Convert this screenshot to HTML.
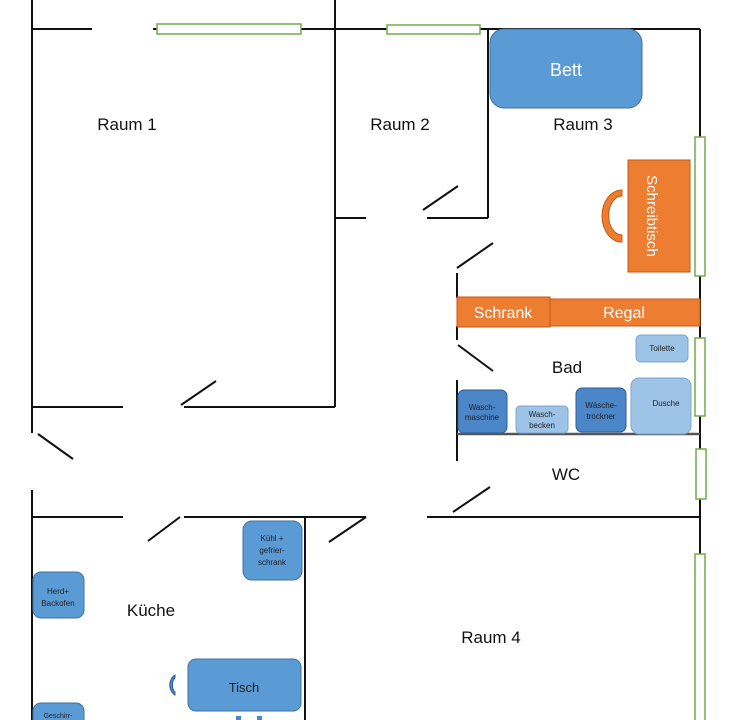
<!DOCTYPE html>
<html><head><meta charset="utf-8"><style>
html,body{margin:0;padding:0;background:#fff;width:748px;height:720px;overflow:hidden}
svg{display:block}
text{font-family:"Liberation Sans",sans-serif}
</style></head><body>
<svg width="748" height="720" viewBox="0 0 748 720" xmlns="http://www.w3.org/2000/svg">
<g stroke="#111" stroke-width="2" fill="none">
<line x1="32" y1="29" x2="92" y2="29"/>
<line x1="153" y1="29" x2="700" y2="29"/>
<line x1="700" y1="29" x2="700" y2="720"/>
<line x1="32" y1="0" x2="32" y2="433"/>
<line x1="38" y1="434" x2="73" y2="459"/>
<line x1="32" y1="490" x2="32" y2="720"/>
<line x1="32" y1="407" x2="123" y2="407"/>
<line x1="181" y1="405" x2="216" y2="381"/>
<line x1="184" y1="407" x2="335" y2="407"/>
<line x1="335" y1="0" x2="335" y2="407"/>
<line x1="335" y1="218" x2="366" y2="218"/>
<line x1="423" y1="210" x2="458" y2="186"/>
<line x1="427" y1="218" x2="488" y2="218"/>
<line x1="488" y1="29" x2="488" y2="218"/>
<line x1="457" y1="268" x2="493" y2="243"/>
<line x1="457" y1="273" x2="457" y2="298"/>
<line x1="457" y1="326" x2="457" y2="340"/>
<line x1="458" y1="345" x2="493" y2="371"/>
<line x1="457" y1="380" x2="457" y2="461"/>
<line x1="453" y1="512" x2="490" y2="487"/>
<line x1="427" y1="517" x2="700" y2="517"/>
<line x1="32" y1="517" x2="123" y2="517"/>
<line x1="148" y1="541" x2="180" y2="517"/>
<line x1="184" y1="517" x2="366" y2="517"/>
<line x1="329" y1="542" x2="366" y2="517"/>
<line x1="305" y1="517" x2="305" y2="720"/>
</g>
<line x1="457" y1="434" x2="700" y2="434" stroke="#555" stroke-width="2.5"/>
<g fill="#fff" stroke="#70ad47" stroke-width="1.5">
<rect x="157" y="24" width="144" height="10"/>
<rect x="387" y="25" width="93" height="9"/>
<rect x="695" y="137" width="10" height="139"/>
<rect x="695" y="338" width="10" height="78"/>
<rect x="696" y="449" width="10" height="50"/>
<rect x="695" y="554" width="10" height="170"/>
</g>
<rect x="490" y="29" width="152" height="79" rx="14" fill="#5b9bd5" stroke="#41719c"/>
<text x="566" y="76" font-size="18" fill="#fff" text-anchor="middle">Bett</text>
<rect x="628" y="160" width="62" height="112" fill="#ed7d31" stroke="#c55a11"/>
<text x="651" y="216" font-size="15" fill="#fff" text-anchor="middle" transform="rotate(90 651 216)" dominant-baseline="middle">Schreibtisch</text>
<path d="M622 190 A20 26 0 0 0 622 242 L622 235 A13 19 0 0 1 622 196 Z" fill="#ed7d31" stroke="#c55a11"/>
<rect x="457" y="297" width="93" height="30" fill="#ed7d31" stroke="#c55a11"/>
<rect x="550" y="299" width="150" height="27" fill="#ed7d31" stroke="#c55a11"/>
<text x="503" y="318" font-size="16" fill="#fff" text-anchor="middle">Schrank</text>
<text x="624" y="318" font-size="16" fill="#fff" text-anchor="middle">Regal</text>
<rect x="636" y="335" width="52" height="27" rx="5" fill="#9dc3e6" stroke="#7ea6d0"/>
<text x="662" y="351" font-size="8" fill="#222" text-anchor="middle">Toilette</text>
<rect x="631" y="378" width="60" height="56" rx="8" fill="#9dc3e6" stroke="#7ea6d0"/>
<text x="666" y="406" font-size="8" fill="#222" text-anchor="middle">Dusche</text>
<rect x="458" y="390" width="49" height="43" rx="6" fill="#4a86c8" stroke="#2e5e94"/>
<text x="482" y="410" font-size="8" fill="#222" text-anchor="middle">Wasch-</text>
<text x="482" y="420" font-size="8" fill="#222" text-anchor="middle">maschine</text>
<rect x="516" y="406" width="52" height="27" rx="4" fill="#9dc3e6" stroke="#7ea6d0"/>
<text x="542" y="417" font-size="8" fill="#222" text-anchor="middle">Wasch-</text>
<text x="542" y="428" font-size="8" fill="#222" text-anchor="middle">becken</text>
<rect x="576" y="388" width="50" height="44" rx="6" fill="#4a86c8" stroke="#2e5e94"/>
<text x="601" y="408" font-size="8" fill="#222" text-anchor="middle">Wäsche-</text>
<text x="601" y="419" font-size="8" fill="#222" text-anchor="middle">trockner</text>
<rect x="243" y="521" width="59" height="59" rx="9" fill="#5b9bd5" stroke="#41719c"/>
<text x="272" y="541" font-size="8" fill="#222" text-anchor="middle">Kühl +</text>
<text x="272" y="553" font-size="8" fill="#222" text-anchor="middle">gefrier-</text>
<text x="272" y="565" font-size="8" fill="#222" text-anchor="middle">schrank</text>
<rect x="33" y="572" width="51" height="46" rx="8" fill="#5b9bd5" stroke="#41719c"/>
<text x="58" y="594" font-size="8" fill="#222" text-anchor="middle">Herd+</text>
<text x="58" y="606" font-size="8" fill="#222" text-anchor="middle">Backofen</text>
<rect x="33" y="703" width="51" height="30" rx="8" fill="#5b9bd5" stroke="#41719c"/>
<text x="58" y="718" font-size="7" fill="#222" text-anchor="middle">Geschirr-</text>
<rect x="188" y="659" width="113" height="52" rx="8" fill="#5b9bd5" stroke="#41719c"/>
<text x="244" y="692" font-size="13" fill="#222" text-anchor="middle">Tisch</text>
<path d="M175 675 A9 11 0 0 0 175 695 L175 692 A5 8 0 0 1 175 678 Z" fill="#4a86c8" stroke="#2e5e94"/>
<rect x="236" y="716" width="5" height="6" fill="#4a86c8"/>
<rect x="257" y="716" width="5" height="6" fill="#4a86c8"/>
<g font-size="17" fill="#111" text-anchor="middle">
<text x="127" y="130">Raum 1</text>
<text x="400" y="130">Raum 2</text>
<text x="583" y="130">Raum 3</text>
<text x="567" y="373">Bad</text>
<text x="566" y="480">WC</text>
<text x="151" y="616">Küche</text>
<text x="491" y="643">Raum 4</text>
</g>
</svg>
</body></html>
